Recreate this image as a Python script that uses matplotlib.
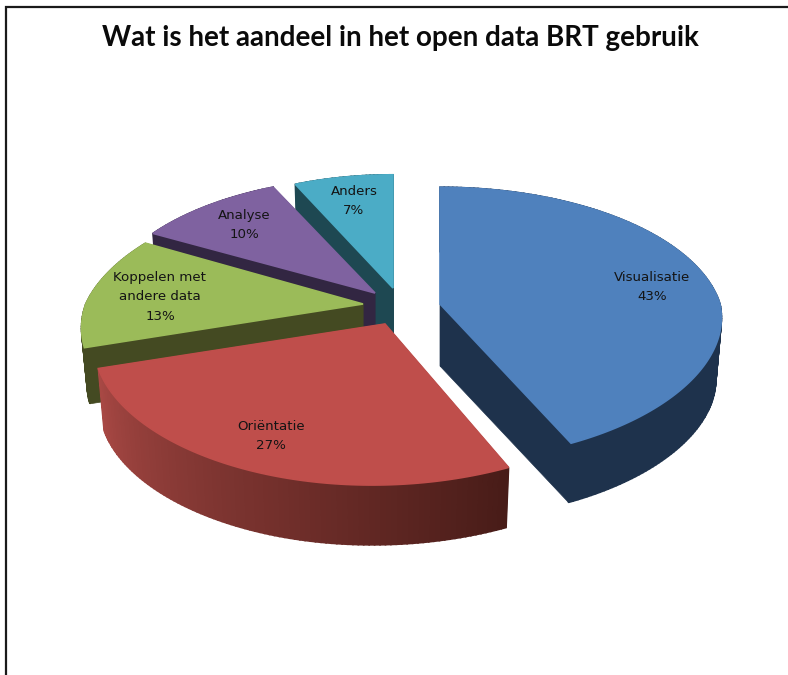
import numpy as np
import matplotlib
matplotlib.use("Agg")
import matplotlib.pyplot as plt

# --- data ---
title = "Wat is het aandeel in het open data BRT gebruik"
categories = ["Visualisatie", "Oriëntatie", "Koppelen met\nandere data", "Analyse", "Anders"]
values = [43, 27, 13, 10, 7]

# --- style ---
top_colors = ["#4F81BD", "#BF4E4B", "#9BBB59", "#7F62A0", "#4BACC6"]
wall_start = [(30, 50, 76), (72, 28, 24), (68, 74, 34), (50, 38, 66), (30, 72, 82)]
wall_end = [(30, 50, 76), (168, 72, 68), (68, 74, 34), (50, 38, 66), (30, 72, 82)]
apexes = [(440, 304), (385, 324), (363, 304), (375, 293), (393, 288)]
scale_x = [1.0, 1.03, 0.99, 0.97, 0.93]
scale_y = [0.99, 1.02, 1.0, 0.98, 0.96]
skews = [0.0, -0.08, -0.15, 0.0, 0.0]
wall_heights = [62, 63, 57, 60, 60]
label_xy = [(652, 287), (271, 436), (160, 297), (244, 225), (354, 201)]
RX, RY, K_BACK, K_FRONT, K_Y = 280, 135, 0.15, 0.10, 0.145
draw_order = [4, 3, 2, 0, 1]

fig = plt.figure(figsize=(7.88, 6.75), dpi=100)
ax = fig.add_axes([0, 0, 1, 1])
ax.set_xlim(0, 788)
ax.set_ylim(675, 0)
ax.axis("off")


def top_pt(i, t):
    u, v = np.sin(t), np.cos(t)
    kx = K_BACK if v > 0 else K_FRONT
    dy = -RY * v * scale_y[i] / (1 + K_Y * v)
    dx = RX * u * scale_x[i] / (1 + kx * v) + skews[i] * dy
    return np.array([apexes[i][0] + dx, apexes[i][1] + dy])


def wall_pt(i, p):
    a = np.array(apexes[i], float)
    return a + (p - a) * 0.98 + np.array([0, wall_heights[i]])


fractions = np.array(values, float) / sum(values)
edges = np.concatenate([[0], np.cumsum(fractions)]) * 2 * np.pi

for i in draw_order:
    t0, t1 = edges[i], edges[i + 1]
    ts = np.linspace(t0, t1, int(np.degrees(t1 - t0)) + 2)
    arc = np.array([top_pt(i, t) for t in ts])
    a = np.array(apexes[i], float)
    c0 = np.array(wall_start[i]) / 255
    c1 = np.array(wall_end[i]) / 255
    # radial walls
    for p, c in ((arc[0], c0), (arc[-1], c1)):
        poly = np.array([a, p, wall_pt(i, p), a + [0, wall_heights[i]]])
        ax.fill(poly[:, 0], poly[:, 1], color=c, lw=0.5)
    # outer wall
    n = len(ts) - 1
    for j in range(n):
        f = j / max(n - 1, 1)
        c = c0 + (c1 - c0) * f
        poly = np.array([arc[j], arc[j + 1], wall_pt(i, arc[j + 1]), wall_pt(i, arc[j])])
        ax.fill(poly[:, 0], poly[:, 1], color=c, lw=1.2)
    # top face
    poly = np.vstack([a, arc])
    ax.fill(poly[:, 0], poly[:, 1], color=top_colors[i], lw=1.2)

for name, val, (x, y) in zip(categories, values, label_xy):
    ax.text(x, y, f"{name}\n{val}%", ha="center", va="center", fontsize=9.6,
            family="DejaVu Sans", color="#141414", linespacing=1.6, zorder=10)

ax.text(400, 38, title, ha="center", va="center", fontsize=20,
        family="Lato", weight="bold", color="#0a0a0a", zorder=10)

ax.plot([6.5, 6.5, 788], [675, 7, 7], color="#1a1a1a", lw=1.6, zorder=10,
        solid_joinstyle="miter", clip_on=False)

fig.savefig("out.png", dpi=100)
